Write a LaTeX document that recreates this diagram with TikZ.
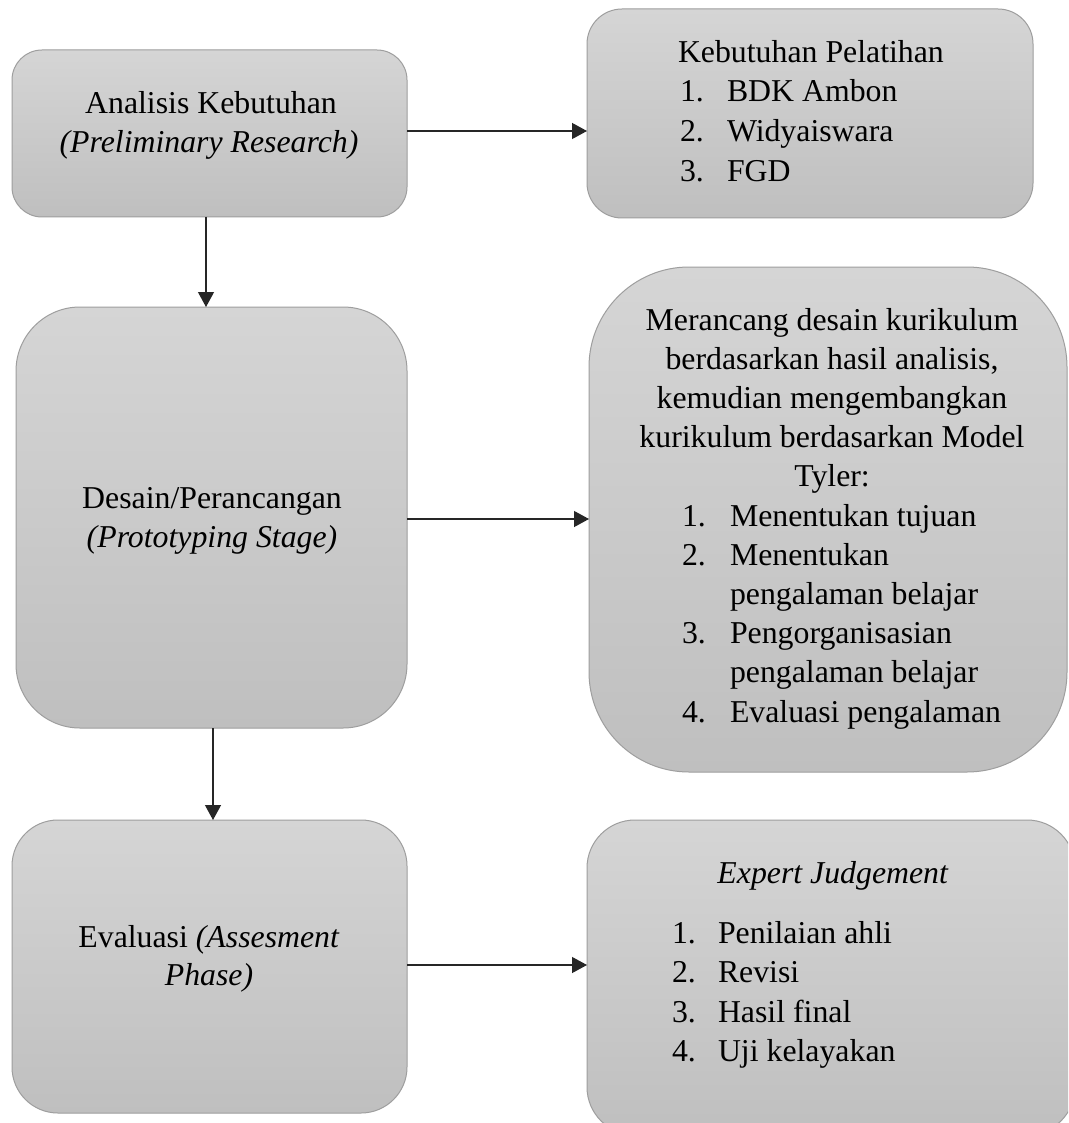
\documentclass[tikz,border=0pt]{standalone}
\usepackage{fontspec}
\setmainfont{Liberation Serif}
\usetikzlibrary{arrows.meta}
\definecolor{boxtop}{RGB}{213,213,213}
\definecolor{boxbot}{RGB}{191,191,191}
\definecolor{boxline}{RGB}{158,158,158}
\begin{document}
\begin{tikzpicture}[x=1pt,y=-1pt,
  box/.style={draw=boxline, line width=1pt, top color=boxtop, bottom color=boxbot, inner sep=0pt, outer sep=0pt},
  txt/.style={font=\fontsize{31.8}{40}\selectfont, inner sep=0pt, outer sep=0pt, text=black},
  arr/.style={draw=black!85, line width=1.2pt, -{Triangle[length=15pt,width=16pt]}}]
\clip (0,0) rectangle (1068,1123);
\fill[white] (0,0) rectangle (1068,1123);
% boxes
\node[box, rounded corners=30pt, minimum width=395pt, minimum height=167pt] (b1) at (209.5,133.5) {};
\node[box, rounded corners=35pt, minimum width=446pt, minimum height=209pt] (b2) at (810,113.5) {};
\node[box, rounded corners=64pt, minimum width=391pt, minimum height=421pt] (b3) at (211.5,517.5) {};
\node[box, rounded corners=100pt, minimum width=478pt, minimum height=505pt] (b4) at (828,519.5) {};
\node[box, rounded corners=46pt, minimum width=395pt, minimum height=293pt] (b5) at (209.5,966.5) {};
\node[box, rounded corners=48pt, minimum width=488pt, minimum height=315pt] (b6) at (831,977.5) {};
% box 1 text
\node[txt, anchor=base] (t1a) at (211,114) {Analisis Kebutuhan};
\node[txt, anchor=base] (t1b) at (209,153) {\textit{(Preliminary Research)}};
% box 2 text
\node[txt, anchor=base west] (t2h) at (678,63) {Kebutuhan Pelatihan};
\node[txt, anchor=base west] (t2n1) at (680,102) {1.};
\node[txt, anchor=base west] (t2i1) at (727,102) {BDK Ambon};
\node[txt, anchor=base west] (t2n2) at (680,142) {2.};
\node[txt, anchor=base west] (t2i2) at (727,142) {Widyaiswara};
\node[txt, anchor=base west] (t2n3) at (680,182) {3.};
\node[txt, anchor=base west] (t2i3) at (727,182) {FGD};
% box 3 text
\node[txt, anchor=base] (t3a) at (212,508) {Desain/Perancangan};
\node[txt, anchor=base] (t3b) at (212,547) {\textit{(Prototyping Stage)}};
% box 4 text
\node[txt, anchor=base] (t4a) at (832,330) {Merancang desain kurikulum};
\node[txt, anchor=base] (t4b) at (832,369.2) {berdasarkan hasil analisis,};
\node[txt, anchor=base] (t4c) at (832,408.4) {kemudian mengembangkan};
\node[txt, anchor=base] (t4d) at (832,447.6) {kurikulum berdasarkan Model};
\node[txt, anchor=base] (t4e) at (832,486.8) {Tyler:};
\node[txt, anchor=base west] (t4n1) at (682,526) {1.};
\node[txt, anchor=base west] (t4i1) at (730,526) {Menentukan tujuan};
\node[txt, anchor=base west] (t4n2) at (682,565.2) {2.};
\node[txt, anchor=base west] (t4i2) at (730,565.2) {Menentukan};
\node[txt, anchor=base west] (t4i2b) at (730,604.4) {pengalaman belajar};
\node[txt, anchor=base west] (t4n3) at (682,643.6) {3.};
\node[txt, anchor=base west] (t4i3) at (730,643.6) {Pengorganisasian};
\node[txt, anchor=base west] (t4i3b) at (730,682.8) {pengalaman belajar};
\node[txt, anchor=base west] (t4n4) at (682,722) {4.};
\node[txt, anchor=base west] (t4i4) at (730,722) {Evaluasi pengalaman};
% box 5 text
\node[txt, anchor=base] (t5a) at (209,947) {Evaluasi \textit{(Assesment}};
\node[txt, anchor=base] (t5b) at (209,985) {\textit{Phase)}};
% box 6 text
\node[txt, anchor=base] (t6h) at (833,883) {\textit{Expert Judgement}};
\node[txt, anchor=base west] (t6n1) at (672,943) {1.};
\node[txt, anchor=base west] (t6i1) at (718,943) {Penilaian ahli};
\node[txt, anchor=base west] (t6n2) at (672,982.5) {2.};
\node[txt, anchor=base west] (t6i2) at (718,982.5) {Revisi};
\node[txt, anchor=base west] (t6n3) at (672,1022) {3.};
\node[txt, anchor=base west] (t6i3) at (718,1022) {Hasil final};
\node[txt, anchor=base west] (t6n4) at (672,1061.5) {4.};
\node[txt, anchor=base west] (t6i4) at (718,1061.5) {Uji kelayakan};
% connectors
\draw[arr] ([xshift=-3.5pt]b1.south) -- ([xshift=-3.5pt]b1.south |- b3.north);
\draw[arr] ([xshift=1.5pt]b3.south) -- ([xshift=1.5pt]b3.south |- b5.north);
\draw[arr] ([yshift=2.5pt]b1.east) -- ([yshift=2.5pt]b1.east -| b2.west);
\draw[arr] ([yshift=-1.5pt]b3.east) -- ([yshift=-1.5pt]b3.east -| b4.west);
\draw[arr] ([yshift=1.5pt]b5.east) -- ([yshift=1.5pt]b5.east -| b6.west);
\end{tikzpicture}
\end{document}
